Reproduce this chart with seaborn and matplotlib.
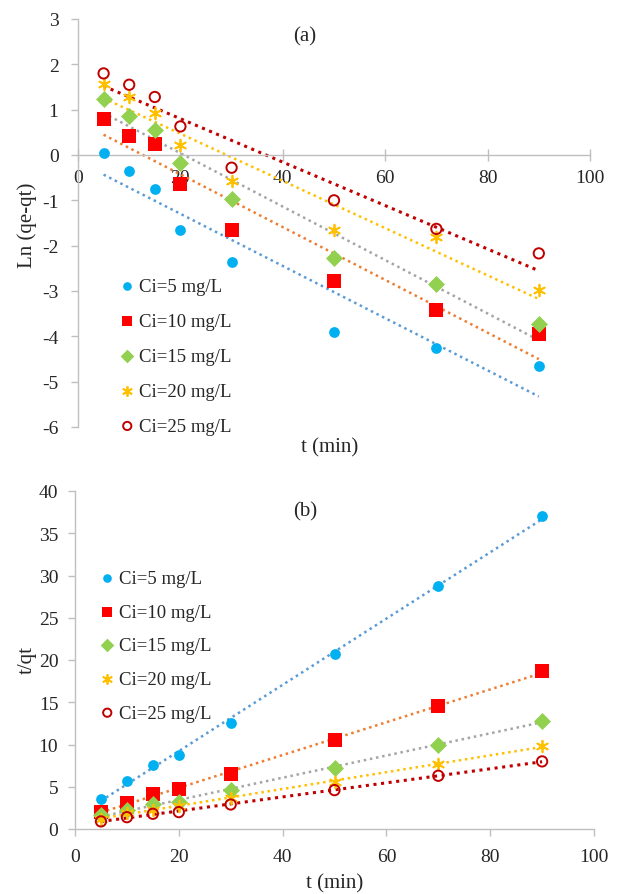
import numpy as np
import matplotlib
matplotlib.use('Agg')
import matplotlib.pyplot as plt
import seaborn as sns

sns.set_style('white')
plt.rcParams['font.family'] = ['Liberation Serif', 'DejaVu Serif']
plt.rcParams['axes.unicode_minus'] = False

# Data
t = [5, 10, 15, 20, 30, 50, 70, 90]
labels = ['Ci=5 mg/L', 'Ci=10 mg/L', 'Ci=15 mg/L', 'Ci=20 mg/L', 'Ci=25 mg/L']

# (a) pseudo-first-order: Ln(qe-qt)
ln_c5 = [0.05, -0.35, -0.75, -1.65, -2.35, -3.91, -4.25, -4.65]
ln_c10 = [0.80, 0.43, 0.24, -0.65, -1.65, -2.78, -3.42, -3.95]
ln_c15 = [1.23, 0.86, 0.55, -0.17, -0.97, -2.27, -2.85, -3.72]
ln_c20 = [1.57, 1.28, 0.92, 0.22, -0.57, -1.65, -1.80, -2.98]
ln_c25 = [1.80, 1.55, 1.28, 0.63, -0.28, -1.00, -1.63, -2.17]

# (b) pseudo-second-order: t/qt
tq_c5 = [3.5, 5.7, 7.6, 8.8, 12.6, 20.7, 28.8, 37.0]
tq_c10 = [2.0, 3.1, 4.2, 4.7, 6.5, 10.5, 14.5, 18.7]
tq_c15 = [1.6, 2.3, 2.9, 3.2, 4.6, 7.2, 10.0, 12.8]
tq_c20 = [1.2, 1.9, 2.3, 2.7, 3.7, 5.6, 7.7, 9.8]
tq_c25 = [0.9, 1.4, 1.8, 2.0, 2.9, 4.6, 6.3, 8.0]

# styles
marker_colors = ['#00B0F0', '#FF0000', '#92D050', '#FFC000', '#C00000']
line_colors = ['#5B9BD5', '#ED7D31', '#A5A5A5', '#FFC000', '#C00000']
markers = ['o', 's', 'D', (6, 2, 0), 'o']
sizes = [60, 90, 75, 70, 55]

fig = plt.figure(figsize=(6.18, 8.95), dpi=100)
ax = fig.add_axes([78 / 618, 1 - 428 / 895, 512 / 618, 408 / 895])
bx = fig.add_axes([75 / 618, 1 - 830 / 895, 519 / 618, 338 / 895])


def draw(axis, series):
    for i, y in enumerate(series):
        skw = dict(s=sizes[i], zorder=3, alpha=1)
        if i == 4:
            skw.update(facecolors='none', edgecolors=marker_colors[i], linewidths=1.4)
        elif i == 3:
            skw.update(color=marker_colors[i], linewidths=1.3)
        else:
            skw.update(color=marker_colors[i], linewidths=0)
        lw = 2.2 if i == 4 else 1.8
        sns.regplot(x=np.array(t), y=np.array(y), ax=axis, ci=None, marker=markers[i],
                    scatter_kws=skw, label=labels[i],
                    line_kws=dict(color=line_colors[i], ls=(0, (1, 1.5)), lw=lw, zorder=2))


draw(ax, [ln_c5, ln_c10, ln_c15, ln_c20, ln_c25])
draw(bx, [tq_c5, tq_c10, tq_c15, tq_c20, tq_c25])

spine_col = '#BFBFBF'
fs = 14

ax.set_xlim(0, 100)
ax.set_ylim(-6, 3)
ax.set_xticks(range(0, 101, 20))
ax.set_yticks(range(-6, 4))
ax.spines['bottom'].set_position(('data', 0))
bx.set_xlim(0, 100)
bx.set_ylim(0, 40)
bx.set_xticks(range(0, 101, 20))
bx.set_yticks(range(0, 41, 5))

for a in (ax, bx):
    for s in ('top', 'right'):
        a.spines[s].set_visible(False)
    for s in ('left', 'bottom'):
        a.spines[s].set_color(spine_col)
        a.spines[s].set_linewidth(1)
    a.tick_params(axis='both', direction='out', length=5, width=1, color=spine_col,
                  labelsize=fs, bottom=True, left=True)
    a.set_xlabel('')
    a.set_ylabel('')

ax.tick_params(axis='x', direction='inout', length=8, pad=6)
ax.tick_params(axis='y', pad=9)
bx.tick_params(axis='x', pad=9)
bx.tick_params(axis='y', pad=7)

fig.text(330 / 618, 1 - 448 / 895, 't (min)', ha='center', va='center', fontsize=fs + 1)
fig.text(27 / 618, 1 - 225 / 895, 'Ln (qe-qt)', ha='center', va='center', rotation=90, fontsize=fs + 1)
fig.text(305 / 618, 1 - 37 / 895, '(a)', ha='center', va='center', fontsize=fs + 1)

fig.text(335 / 618, 1 - 884 / 895, 't (min)', ha='center', va='center', fontsize=fs + 1)
fig.text(27 / 618, 1 - 660 / 895, 't/qt', ha='center', va='center', rotation=90, fontsize=fs + 1)
fig.text(305 / 618, 1 - 512 / 895, '(b)', ha='center', va='center', fontsize=fs + 1)

ax.legend(loc='upper left', bbox_to_anchor=(116 / 618, 1 - 279 / 895), bbox_transform=fig.transFigure,
          frameon=False, fontsize=13.5, labelspacing=0.95, handletextpad=0.05, borderpad=0,
          borderaxespad=0, markerscale=0.8, handlelength=1.2)
bx.legend(loc='upper left', bbox_to_anchor=(96 / 618, 1 - 571 / 895), bbox_transform=fig.transFigure,
          frameon=False, fontsize=13.5, labelspacing=0.88, handletextpad=0.05, borderpad=0,
          borderaxespad=0, markerscale=0.8, handlelength=1.2)

fig.savefig('out.png', dpi=100)
